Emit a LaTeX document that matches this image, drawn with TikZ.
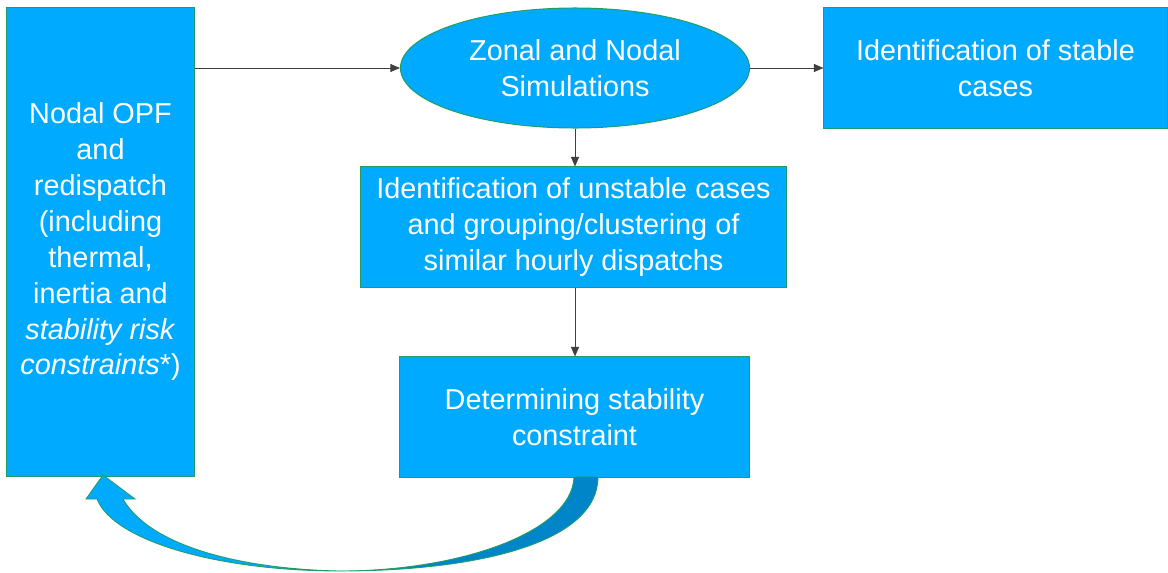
\documentclass[tikz,border=0pt]{standalone}
\usepackage{fontspec}
\setmainfont{Liberation Sans}
\usepackage{tikz}
\usetikzlibrary{shapes.geometric,arrows.meta}

\definecolor{boxblue}{RGB}{0,170,255}
\definecolor{darkblue}{RGB}{0,134,200}
\definecolor{rimgreen}{RGB}{30,158,100}
\definecolor{linegray}{RGB}{64,64,64}

\tikzset{
  block/.style={rectangle,draw=rimgreen,fill=boxblue,line width=0.7pt,
    text=white,align=center,inner sep=0pt,
    font=\fontsize{20.5}{25.5}\selectfont},
  oval/.style={block,ellipse},
  flow/.style={draw=linegray,line width=0.7pt,
    -{Triangle[length=2.4mm,width=2mm]}}
}

\begin{document}
\begin{tikzpicture}[x=0.025cm,y=-0.025cm]
		\useasboundingbox (0,0) rectangle (1168,572);
		% boxes
		\node[block,minimum width=4.675cm,minimum height=11.7cm] (opf) at (100.5,242)
		  {Nodal OPF\\and\\redispatch\\(including\\thermal,\\inertia and\\\textit{stability risk}\\\textit{constraints}*)};
		\node[oval,minimum width=8.725cm,minimum height=3cm] (sim) at (575,68)
		  {Zonal and Nodal\\Simulations};
		\node[block,minimum width=8.575cm,minimum height=3cm] (stable) at (995.5,68)
		  {Identification of stable\\cases};
		\node[block,minimum width=10.625cm,minimum height=3cm] (unstable) at (573.5,227)
		  {Identification of unstable cases\\and grouping/clustering of\\similar hourly dispatchs};
		\node[block,minimum width=8.725cm,minimum height=3cm] (constr) at (574.5,417)
		  {Determining stability\\constraint};
		% connectors
		\draw[flow] (opf.east |- sim.west) -- (sim.west);
		\draw[flow] (sim.east) -- (stable.west);
		\draw[flow] (sim.south) -- (sim.south |- unstable.north);
		\draw[flow] (sim.south |- unstable.south) -- (sim.south |- constr.north);
		% curved feedback arrow
		\coordinate (inA) at (574,477);
		\coordinate (outA) at (598,477);
		\coordinate (low) at (340,571);
		\coordinate (tip) at (103,475);
		\draw[rimgreen,line width=0.6pt,fill=darkblue]
		  (inA) .. controls (572,532) and (460,571) .. (low)
		  .. controls (480,571) and (598,542) .. (outA) -- cycle;
		\draw[rimgreen,line width=0.6pt,fill=boxblue]
		  (low) .. controls (215,571) and (113,540) .. (97,499)
		  -- (86,499) -- (tip) -- (135,499) -- (123,499)
		  .. controls (150,546) and (240,569) .. (low) -- cycle;
\end{tikzpicture}
\end{document}
